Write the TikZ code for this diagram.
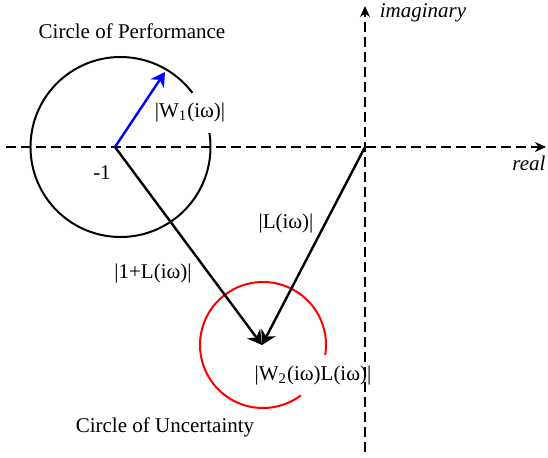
\documentclass[tikz,border=0pt]{standalone}
\usepackage{fontspec}
\setmainfont{Liberation Serif}
\usepackage{tikz}
\usetikzlibrary{arrows.meta,calc,positioning}
\tikzset{axisline/.style={line width=1pt,dash pattern=on 5pt off 2.5pt,-{Stealth[length=5.5pt,width=5pt]}},
  arr/.style={-{Stealth[length=7pt,width=8pt]},line width=1.2pt},
  circ/.style={line width=1pt},
  lbl/.style={inner sep=1pt,font=\fontsize{10.5}{12}\selectfont}}

\begin{document}
\begin{tikzpicture}[x=0.5pt,y=0.5pt]
\useasboundingbox (0,0) rectangle (548,457);
% axes
\coordinate (xl) at (6,310); \coordinate (xr) at (546,310);
\coordinate (yb) at (365,5); \coordinate (yt) at (365,451);
\draw[axisline] (xl) -- (xr);
\draw[axisline] (yb) -- (yt);
\node[lbl,font=\fontsize{10.5}{12}\selectfont\itshape] (im) at (423,444) {imaginary};
\node[lbl,font=\fontsize{10.5}{12}\selectfont\itshape] (re) at (529,294) {real};
% points
\coordinate (O) at (365,310);
\coordinate (M) at (115,310);
\coordinate (W) at (262,112);
\coordinate (B) at (165,385);
% circles
\draw[circ] (120.5,310) ++(37:90) arc[start angle=37,end angle=369,radius=90];
\draw[circ,red] (263,112) ++(-9:63) arc[start angle=-9,end angle=307,radius=63];
% vectors
\draw[arr,blue] (M) -- (B);
\draw[arr] (M) -- (W);
\draw[arr] (O) -- (W);
% labels
\node[lbl] (perf) at (132,426) {Circle of Performance};
\node[lbl] (unc) at (165,30) {Circle of Uncertainty};
\node[lbl] (m1) at (102,284) {-1};
\node[lbl] (w1) at (190,345) {|W\textsubscript{1}(iω)|};
\node[lbl] (onel) at (153,184) {|1+L(iω)|};
\node[lbl] (l) at (286,234) {|L(iω)|};
\node[lbl] (w2l) at (313,82) {|W\textsubscript{2}(iω)L(iω)|};
\end{tikzpicture}
\end{document}
